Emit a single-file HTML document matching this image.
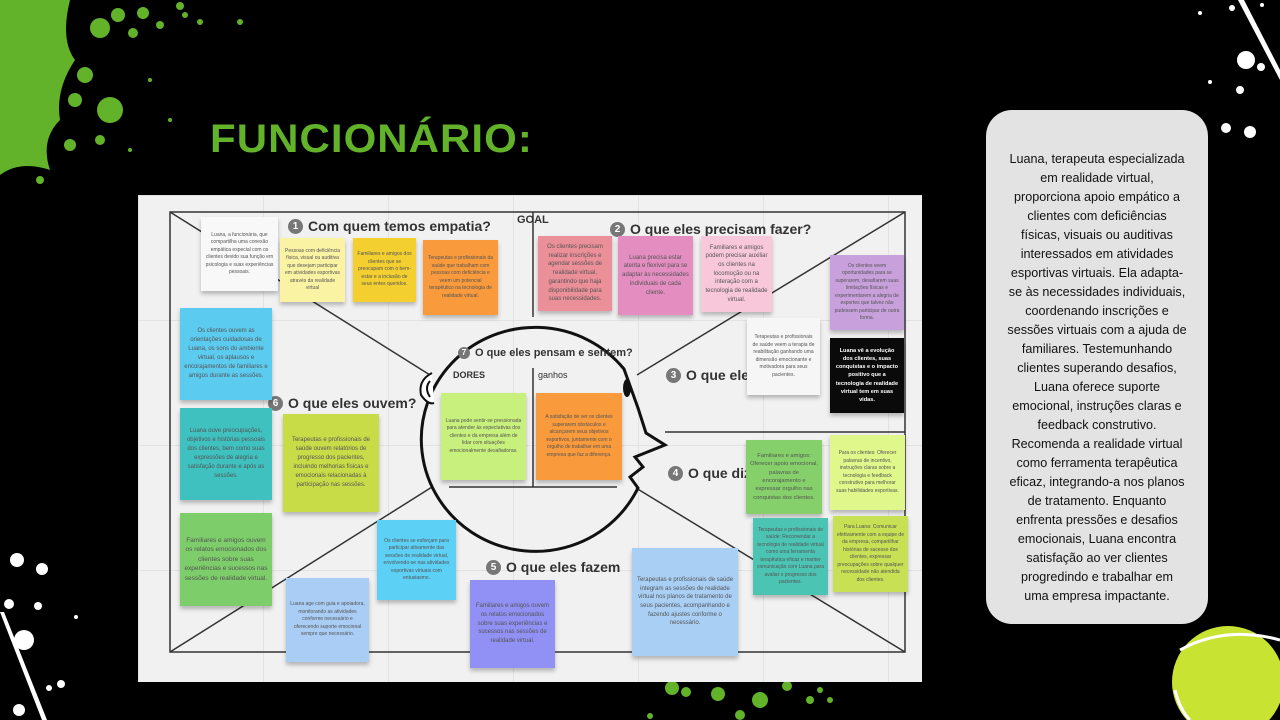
<!DOCTYPE html>
<html><head><meta charset="utf-8"><style>
*{margin:0;padding:0;box-sizing:border-box}
body{width:1280px;height:720px;background:#000;position:relative;overflow:hidden;font-family:"Liberation Sans",sans-serif}
.a{position:absolute}
#board{left:138px;top:195px;width:784px;height:487px;background-color:#f1f1f1;background-image:linear-gradient(#e2e2e2 1px,transparent 1px),linear-gradient(90deg,#e2e2e2 1px,transparent 1px);background-size:125px 125px;overflow:hidden}
.n{position:absolute;display:flex;align-items:center;justify-content:center;text-align:center;font-size:5px;line-height:1.5;padding:4px;color:#555;box-shadow:0 3px 4px rgba(0,0,0,.25)}
.n.b{font-size:7px;line-height:1.45}
.h{position:absolute;font-weight:bold;color:#333;font-size:14px;white-space:nowrap;display:flex;align-items:center}
.c{display:inline-block;width:15px;height:15px;border-radius:50%;background:#777;color:#fff;font-size:10px;text-align:center;line-height:15px;margin-right:5px}
#panel{left:986px;top:110px;width:222px;height:514px;background:#e3e3e3;border-radius:26px;text-align:center;font-size:12.6px;line-height:19px;color:#111;padding-top:40px}
</style></head><body>
<svg class="a" style="left:0;top:0" width="1280" height="720">
<g fill="#62b22a">
<path d="M0 0 H70 Q60 40 75 60 Q55 90 60 120 Q40 140 50 170 Q20 160 0 175Z"/>
<circle cx="100" cy="28" r="10"/><circle cx="118" cy="15" r="7"/><circle cx="143" cy="13" r="6"/><circle cx="133" cy="33" r="5"/>
<circle cx="110" cy="110" r="13"/><circle cx="85" cy="75" r="8"/><circle cx="75" cy="100" r="7"/><circle cx="100" cy="140" r="5"/>
<circle cx="160" cy="25" r="4"/><circle cx="185" cy="15" r="3"/><circle cx="200" cy="22" r="3"/><circle cx="240" cy="22" r="3"/><circle cx="180" cy="6" r="4"/>
<circle cx="70" cy="145" r="6"/><circle cx="40" cy="180" r="4"/><circle cx="150" cy="80" r="2"/><circle cx="170" cy="120" r="2"/><circle cx="130" cy="150" r="2"/>
<circle cx="672" cy="688" r="7"/><circle cx="686" cy="692" r="5"/><circle cx="718" cy="694" r="7"/><circle cx="760" cy="700" r="8"/><circle cx="787" cy="686" r="5"/><circle cx="740" cy="715" r="5"/><circle cx="810" cy="700" r="4"/><circle cx="820" cy="690" r="3"/><circle cx="830" cy="700" r="3"/><circle cx="650" cy="716" r="3"/>
</g>
<g fill="#fff">
<circle cx="1246" cy="60" r="9"/><circle cx="1240" cy="90" r="4"/><circle cx="1250" cy="132" r="6"/><circle cx="1226" cy="128" r="5"/><circle cx="1261" cy="67" r="4"/><circle cx="1210" cy="82" r="2"/><circle cx="1232" cy="8" r="3"/><circle cx="1200" cy="13" r="2"/><circle cx="1262" cy="5" r="2"/>
<path d="M1238 0 L1244 0 L1280 70 L1280 80Z"/>
<circle cx="17" cy="560" r="7"/><circle cx="42" cy="569" r="6"/><circle cx="9" cy="604" r="5"/><circle cx="24" cy="640" r="10"/><circle cx="38" cy="606" r="4"/><circle cx="19" cy="710" r="6"/><circle cx="61" cy="684" r="4"/><circle cx="49" cy="688" r="3"/><circle cx="76" cy="617" r="2"/>
<path d="M0 612 L4 612 L47 720 L42 720Z"/>
</g>
<circle cx="1228" cy="682" r="56" fill="#c9e332"/>
<path d="M1180 650 Q1225 625 1280 640" stroke="#fff" stroke-width="3" fill="none"/>
<path d="M1175 690 Q1180 710 1190 720" stroke="#fff" stroke-width="3" fill="none"/>
</svg>
<div class="a" style="left:210px;top:117px;color:#62b22a;font-weight:bold;font-size:40px;letter-spacing:1px;transform:scaleX(1.05);transform-origin:left">FUNCIONÁRIO:</div>

<div class="a" id="board">
<svg class="a" style="left:0;top:0" width="784" height="487">
<g stroke="#333" stroke-width="1.5" fill="none">
<rect x="32" y="17" width="735" height="440"/>
<line x1="32" y1="17" x2="292" y2="180"/>
<line x1="767" y1="17" x2="499" y2="180"/>
<line x1="32" y1="457" x2="294" y2="292"/>
<line x1="767" y1="457" x2="498" y2="293"/>
<line x1="395" y1="17" x2="395" y2="122"/>
<line x1="527" y1="237" x2="767" y2="237"/>
<line x1="395" y1="173" x2="395" y2="292"/>
<line x1="311" y1="292" x2="479" y2="292"/>
</g>
<path d="M486 174 A114 112 0 1 0 500 293 L492 282 L505 272 L497 262 L527 250 L508 238 L500 213 Z" stroke="#111" stroke-width="3" fill="none"/>
<path d="M294 178 Q280 185 283 200 Q290 210 296 208 M292 186 Q286 193 292 202" stroke="#111" stroke-width="2" fill="#fff"/>
<ellipse cx="489" cy="193" rx="4" ry="9" fill="#111"/>
</svg>
<div class="h" style="left:150px;top:23px"><span class="c">1</span>Com quem temos empatia?</div>
<div class="h" style="left:379px;top:19px;font-size:11px">GOAL</div>
<div class="h" style="left:472px;top:26px"><span class="c">2</span>O que eles precisam fazer?</div>
<div class="h" style="left:320px;top:152px;font-size:11px"><span class="c" style="width:12px;height:12px;line-height:12px;font-size:8px">7</span>O que eles pensam e sentem?</div>
<div class="h" style="left:315px;top:175px;font-size:9px">DORES</div>
<div class="h" style="left:400px;top:175px;font-size:9px;font-weight:normal">ganhos</div>
<div class="h" style="left:528px;top:172px"><span class="c">3</span>O que ele v</div>
<div class="h" style="left:130px;top:200px"><span class="c">6</span>O que eles ouvem?</div>
<div class="h" style="left:530px;top:270px"><span class="c">4</span>O que dize</div>
<div class="h" style="left:348px;top:364px"><span class="c">5</span>O que eles fazem</div>

<div class="n" style="left:63px;top:22px;width:77px;height:74px;background:#f8f8f8">Luana, a funcionária, que compartilha uma conexão empática especial com os clientes devido sua função em psicologia e suas experiências pessoais.</div>
<div class="n" style="left:142px;top:43px;width:65px;height:64px;background:#fbf3a4">Pessoas com deficiência física, visual ou auditiva que desejam participar em atividades esportivas através da realidade virtual</div>
<div class="n" style="left:215px;top:43px;width:63px;height:64px;background:#f3d030">Familiares e amigos dos clientes que se preocupam com o bem-estar e a inclusão de seus entes queridos.</div>
<div class="n" style="left:285px;top:45px;width:75px;height:75px;background:#f99a3c">Terapeutas e profissionais da saúde que trabalham com pessoas com deficiência e veem um potencial terapêutico na tecnologia de realidade virtual.</div>
<div class="n b" style="left:400px;top:41px;width:74px;height:75px;background:#eb8f99;font-size:6px">Os clientes precisam realizar inscrições e agendar sessões de realidade virtual, garantindo que haja disponibilidade para suas necessidades.</div>
<div class="n b" style="left:480px;top:41px;width:75px;height:79px;background:#e38dc0;font-size:6px">Luana precisa estar atenta e flexível para se adaptar às necessidades individuais de cada cliente.</div>
<div class="n b" style="left:563px;top:41px;width:71px;height:76px;background:#f8c7d9;font-size:6px">Familiares e amigos podem precisar auxiliar os clientes na locomoção ou na interação com a tecnologia de realidade virtual.</div>
<div class="n" style="left:692px;top:60px;width:74px;height:75px;background:#c8a0dc">Os clientes veem oportunidades para se superarem, desafiarem suas limitações físicas e experimentarem a alegria de esportes que talvez não pudessem participar de outra forma.</div>
<div class="n" style="left:609px;top:123px;width:73px;height:77px;background:#f6f6f6">Terapeutas e profissionais de saúde veem a terapia de reabilitação ganhando uma dimensão emocionante e motivadora para seus pacientes.</div>
<div class="n b" style="left:692px;top:143px;width:74px;height:75px;background:#0a0a0a;color:#fff;font-weight:bold;font-size:5.6px">Luana vê a evolução dos clientes, suas conquistas e o impacto positivo que a tecnologia de realidade virtual tem em suas vidas.</div>
<div class="n" style="left:42px;top:113px;width:92px;height:92px;background:#5ccbf0;font-size:6px">Os clientes ouvem as orientações cuidadosas de Luana, os sons do ambiente virtual, os aplausos e encorajamentos de familiares e amigos durante as sessões.</div>
<div class="n" style="left:42px;top:213px;width:92px;height:92px;background:#3fc1c0;font-size:6px">Luana ouve preocupações, objetivos e histórias pessoais dos clientes, bem como suas expressões de alegria e satisfação durante e após as sessões.</div>
<div class="n" style="left:145px;top:219px;width:96px;height:98px;background:#c8dc48;font-size:6px">Terapeutas e profissionais de saúde ouvem relatórios de progresso dos pacientes, incluindo melhorias físicas e emocionais relacionadas à participação nas sessões.</div>
<div class="n b" style="left:42px;top:318px;width:92px;height:93px;background:#7dcd6a;font-size:6.5px">Familiares e amigos ouvem os relatos emocionados dos clientes sobre suas experiências e sucessos nas sessões de realidade virtual.</div>
<div class="n" style="left:303px;top:198px;width:85px;height:87px;background:#c8f07c">Luana pode sentir-se pressionada para atender às expectativas dos clientes e da empresa além de lidar com situações emocionalmente desafiadoras.</div>
<div class="n" style="left:398px;top:198px;width:86px;height:87px;background:#f99a3c">A satisfação de ver os clientes superarem obstáculos e alcançarem seus objetivos esportivos, juntamente com o orgulho de trabalhar em uma empresa que faz a diferença.</div>
<div class="n" style="left:239px;top:325px;width:79px;height:80px;background:#5cd0f5">Os clientes se esforçam para participar ativamente das sessões de realidade virtual, envolvendo-se nas atividades esportivas virtuais com entusiasmo.</div>
<div class="n" style="left:148px;top:383px;width:83px;height:84px;background:#a9cdf5">Luana age com guia e apoiadora, monitorando as atividades conforme necessário e oferecendo suporte emocional sempre que necessário.</div>
<div class="n b" style="left:332px;top:385px;width:85px;height:88px;background:#9090f5;font-size:6px">Familiares e amigos ouvem os relatos emocionados sobre suas experiências e sucessos nas sessões de realidade virtual.</div>
<div class="n b" style="left:494px;top:353px;width:106px;height:108px;background:#a9cff5;font-size:6px">Terapeutas e profissionais de saúde integram as sessões de realidade virtual nos planos de tratamento de seus pacientes, acompanhando e fazendo ajustes conforme o necessário.</div>
<div class="n b" style="left:608px;top:245px;width:76px;height:74px;background:#85d06a;font-size:5.8px">Familiares e amigos: Oferecer apoio emocional, palavras de encorajamento e expressar orgulho nas conquistas dos clientes.</div>
<div class="n" style="left:692px;top:240px;width:75px;height:75px;background:#dff78b">Para os clientes: Oferecer palavras de incentivo, instruções claras sobre a tecnologia e feedback construtivo para melhorar suas habilidades esportivas.</div>
<div class="n" style="left:615px;top:323px;width:75px;height:77px;background:#4cc4b4">Terapeutas e profissionais de saúde: Recomendar a tecnologia de realidade virtual como uma ferramenta terapêutica eficaz e manter comunicação com Luana para avaliar o progresso dos pacientes.</div>
<div class="n" style="left:695px;top:321px;width:75px;height:76px;background:#c8e053">Para Luana: Comunicar efetivamente com a equipe de da empresa, compartilhar histórias de sucesso dos clientes, expressar preocupações sobre qualquer necessidade não atendida dos clientes.</div>
</div>

<div class="a" id="panel">Luana, terapeuta especializada<br>em realidade virtual,<br>proporciona apoio empático a<br>clientes com deficiências<br>físicas, visuais ou auditivas<br>interessados em atividades<br>esportivas virtuais. Ela adapta-<br>se às necessidades individuais,<br>coordenando inscrições e<br>sessões virtuais com a ajuda de<br>familiares. Testemunhando<br>clientes superando desafios,<br>Luana oferece suporte<br>emocional, instruções claras e<br>feedback construtivo.<br>Recomenda a realidade virtual<br>como ferramenta terapêutica<br>eficaz, integrando-a nos planos<br>de tratamento. Enquanto<br>enfrenta pressões e desafios<br>emocionais, Luana encontra<br>satisfação ao ver clientes<br>progredindo e trabalhar em<br>uma empresa impactante.</div>
</body></html>
